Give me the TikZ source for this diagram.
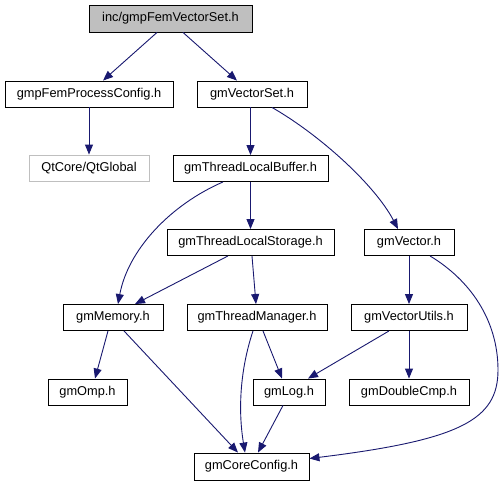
\documentclass[tikz,border=0pt]{standalone}
\usepackage{fontspec}
\setmainfont{Liberation Sans}
\usetikzlibrary{arrows.meta}
\definecolor{edgeblue}{RGB}{25,25,112}
\definecolor{grey75}{RGB}{191,191,191}
\begin{document}
\begin{tikzpicture}[x=1pt,y=-1pt,
  box/.style={draw=black,line width=0.9pt,inner sep=0pt,minimum height=26pt,font=\fontsize{12.8pt}{14pt}\selectfont,text=black},
  edge/.style={draw=edgeblue,line width=0.9pt,-{Triangle[length=10pt,width=8pt]}}]
\useasboundingbox (0,0) rectangle (504,485);
\fill[white] (0,0) rectangle (504,485);
\node[box,fill=grey75,minimum width=163pt,minimum height=27pt] (top) at (170.5,18.5) {inc/gmpFemVectorSet.h};
\node[box,minimum width=168pt] (pfc) at (89,94) {gmpFemProcessConfig.h};
\node[box,minimum width=110pt] (vs) at (252,94) {gmVectorSet.h};
\node[box,draw=grey75,minimum width=120pt] (qt) at (89,168) {QtCore/QtGlobal};
\node[box,minimum width=155pt] (tlb) at (250.5,168.5) {gmThreadLocalBuffer.h};
\node[box,minimum width=167pt] (tls) at (250.5,242.5) {gmThreadLocalStorage.h};
\node[box,minimum width=90pt] (vec) at (409,242.5) {gmVector.h};
\node[box,minimum width=100pt] (mem) at (113,317.5) {gmMemory.h};
\node[box,minimum width=140pt] (tm) at (257,317.5) {gmThreadManager.h};
\node[box,minimum width=116pt] (vu) at (409,317.5) {gmVectorUtils.h};
\node[box,minimum width=79pt] (omp) at (87.5,392) {gmOmp.h};
\node[box,minimum width=72pt] (log) at (289,392) {gmLog.h};
\node[box,minimum width=120pt] (dc) at (409,392) {gmDoubleCmp.h};
\node[box,minimum width=115pt,minimum height=27pt] (cc) at (251.5,466.5) {gmCoreConfig.h};

\draw[edge] ([xshift=-13.5pt]top.south) -- ([xshift=14pt]pfc.north);
\draw[edge] ([xshift=12.5pt]top.south) -- ([xshift=-15pt]vs.north);
\draw[edge] (pfc.south) -- (qt.north);
\draw[edge] ([xshift=-1.5pt]vs.south) -- (tlb.north);
\draw[edge] ([xshift=20pt]vs.south) .. controls (320,135) and (375,185) .. ([xshift=-11pt]vec.north);
\draw[edge] ([xshift=-27.5pt]tlb.south) .. controls (170,205) and (128,250) .. ([xshift=5pt]mem.north);
\draw[edge] (tlb.south) -- (tls.north);
\draw[edge] ([xshift=-22.5pt]tls.south) -- ([xshift=22pt]mem.north);
\draw[edge] ([xshift=1.5pt]tls.south) -- ([xshift=-1pt]tm.north);
\draw[edge] (vec.south) -- (vu.north);
\draw[edge] ([xshift=21pt]vec.south) .. controls (470,280) and (498,320) .. (498,370) .. controls (498,420) and (460,440) .. ([yshift=8pt]cc.east);
\draw[edge] ([xshift=-5pt]mem.south) -- ([xshift=7.5pt]omp.north);
\draw[edge] ([xshift=11pt]mem.south) -- ([xshift=-13.5pt]cc.north);
\draw[edge] ([xshift=-4pt]tm.south) .. controls (240,370) and (238,410) .. ([xshift=-6.5pt]cc.north);
\draw[edge] ([xshift=6pt]tm.south) -- ([xshift=-7pt]log.north);
\draw[edge] ([xshift=-20pt]vu.south) -- ([xshift=19pt]log.north);
\draw[edge] (vu.south) -- (dc.north);
\draw[edge] ([xshift=-6pt]log.south) -- ([xshift=6.5pt]cc.north);
\end{tikzpicture}
\end{document}
